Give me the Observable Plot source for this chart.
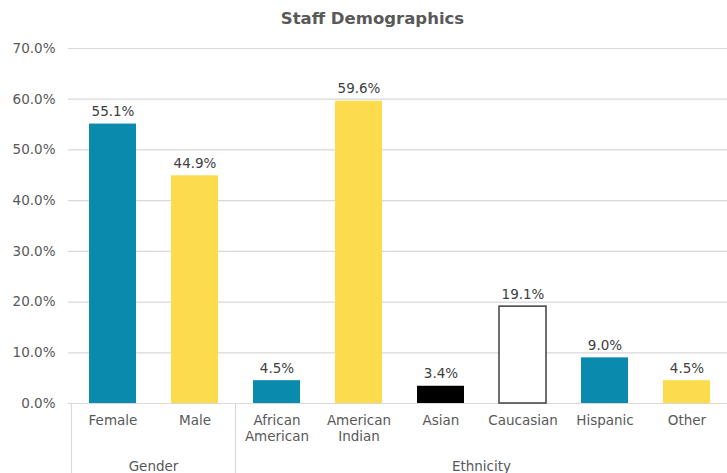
<!DOCTYPE html>
<html>
<head>
<meta charset="utf-8">
<script src="https://cdn.jsdelivr.net/npm/d3@7"></script>
<script src="https://cdn.jsdelivr.net/npm/@observablehq/plot@0.6"></script>
<style>
  html, body { margin: 0; padding: 0; background: #fff; }
  #wrap { width: 727px; font-family: "DejaVu Sans", Verdana, sans-serif; }
  #title { height: 32px; line-height: 37px; text-align: center; font-weight: bold; font-size: 16.5px; color: #595959; padding-left: 18px; box-sizing: border-box; }
  svg { overflow: visible; }
</style>
</head>
<body>
<div id="wrap">
  <div id="title">Staff Demographics</div>
  <div id="chart"></div>
</div>
<script>
const categories = ["Female", "Male", "African American", "American Indian", "Asian", "Caucasian", "Hispanic", "Other"];
const values = [55.1, 44.9, 4.5, 59.6, 3.4, 19.1, 9.0, 4.5];
const groups = ["Gender", "Gender", "Ethnicity", "Ethnicity", "Ethnicity", "Ethnicity", "Ethnicity", "Ethnicity"];
const groupNames = ["Gender", "Ethnicity"];
const yTicks = [0, 10, 20, 30, 40, 50, 60, 70];

const palette = {
  "Female": "#0a8aad", "Male": "#fcdc4d", "African American": "#0a8aad",
  "American Indian": "#fcdc4d", "Asian": "#000000", "Caucasian": "#ffffff",
  "Hispanic": "#0a8aad", "Other": "#fcdc4d"
};

const data = categories.map((c, i) => ({ category: c, value: values[i], group: groups[i] }));
const textColor = "#595959";

function groupMark(index, scales, values, dimensions) {
  const x = scales.x;
  const step = x(categories[1]) - x(categories[0]);
  const bw = typeof x.bandwidth === "function" ? x.bandwidth() : x.bandwidth;
  const gap = (step - bw) / 2;
  const y0 = scales.y(0);
  const bottom = dimensions.height;
  const g = d3.create("svg:g");
  const bounds = [];
  groupNames.forEach(name => {
    const members = categories.filter((c, i) => groups[i] === name);
    const start = x(members[0]) - gap;
    const end = x(members[members.length - 1]) + bw + gap;
    bounds.push(start);
    g.append("text")
      .attr("x", (start + end) / 2)
      .attr("y", bottom - 2)
      .attr("text-anchor", "middle")
      .attr("fill", textColor)
      .attr("font-size", 13.5)
      .text(name);
  });
  bounds.forEach(bx => {
    g.append("line")
      .attr("x1", bx).attr("x2", bx)
      .attr("y1", y0).attr("y2", bottom)
      .attr("stroke", "#d9d9d9").attr("stroke-width", 1.2);
  });
  return g.node();
}

const chart = Plot.plot({
  width: 727,
  height: 441,
  marginLeft: 68,
  marginRight: -4,
  marginTop: 16,
  marginBottom: 70,
  style: { fontFamily: "'DejaVu Sans', Verdana, sans-serif", fontSize: "13.5px", color: textColor, background: "#fff", overflow: "visible" },
  x: { domain: categories, paddingInner: 0.43, paddingOuter: 0.215 },
  y: { domain: [0, 70] },
  marks: [
    Plot.ruleY(yTicks, { stroke: "#d9d9d9", strokeWidth: 1.2 }),
    Plot.barY(data, {
      x: "category", y: "value",
      fill: d => palette[d.category],
      stroke: d => d.category === "Caucasian" ? "#404040" : "none",
      strokeWidth: 1.5
    }),
    Plot.text(data, {
      x: "category", y: "value",
      text: d => d.value.toFixed(1) + "%",
      dy: -8, lineAnchor: "bottom", fill: "#404040", fontSize: 13.5
    }),
    Plot.axisY({ ticks: yTicks, tickSize: 0, tickPadding: 13, tickFormat: d => d.toFixed(1) + "%", label: null, fill: textColor, fontSize: 13.5 }),
    Plot.axisX({ tickSize: 0, tickPadding: 10, tickFormat: d => d.replace(" ", "\n"), label: null, fill: textColor, fontSize: 13.5, lineHeight: 1.2 }),
    groupMark
  ]
});
document.getElementById("chart").appendChild(chart);
</script>
</body>
</html>
